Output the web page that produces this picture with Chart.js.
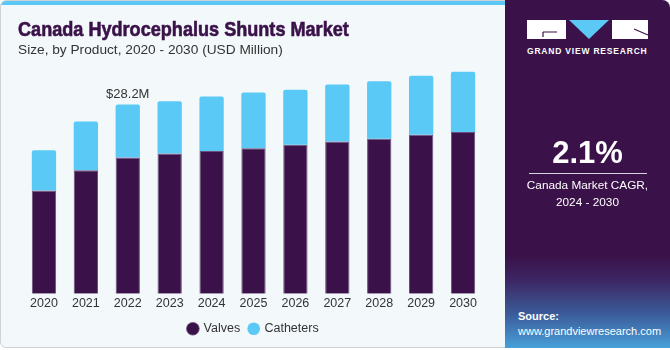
<!DOCTYPE html>
<html>
<head>
<meta charset="utf-8">
<script src="https://cdn.jsdelivr.net/npm/chart.js@4"></script>
<style>
  html, body { margin: 0; padding: 0; }
  body { width: 670px; height: 350px; position: relative; overflow: hidden; background: #fff; font-family: "Liberation Sans", Arial, sans-serif; }
  #frame { position: absolute; left: 0; top: 0; width: 668px; height: 346px; border: 1px solid #cfd3d6; border-radius: 6px; background: #f3f8fb; overflow: hidden; }
  #strip { position: absolute; left: 0; top: 0; width: 506px; height: 4px; background: #5bc8f5; }
  #title { position: absolute; left: 17px; top: 16px; font-size: 20.5px; font-weight: bold; color: #3a1148; white-space: nowrap; transform-origin: left; -webkit-text-stroke: 0.6px #3a1148; }
  #sub { position: absolute; left: 17px; top: 41px; font-size: 13.7px; color: #333; white-space: nowrap; }
  #chartbox { position: absolute; left: 0; top: 0; width: 505px; height: 346px; }
  #side { position: absolute; left: 505px; top: 0; width: 165px; height: 348px; border-top-right-radius: 8px; background: linear-gradient(to bottom, #3a1148 0%, #3a1148 73%, #3d2461 80%, #3b5a98 90%, #48a0da 100%); overflow: hidden; }
  #logo { position: absolute; left: 22px; top: 20px; }
  #gvr { position: absolute; left: 22px; top: 46px; color: #fff; font-size: 8.5px; font-weight: bold; letter-spacing: 0.8px; white-space: nowrap; transform-origin: left; }
  #cagr { position: absolute; left: 0; width: 165px; top: 135px; text-align: center; color: #fff; font-size: 31px; font-weight: bold; }
  #line { position: absolute; left: 24px; top: 173px; width: 118px; height: 1px; background: #d9d3e0; }
  #cagrtxt { position: absolute; left: 0; width: 165px; top: 177px; text-align: center; color: #fff; font-size: 11.8px; line-height: 16.5px; }
  #src { position: absolute; left: 13px; top: 309px; color: #fff; font-size: 11px; line-height: 15px; white-space: nowrap; }
</style>
</head>
<body>
<div id="frame">
  <div id="strip"></div>
  <div id="chartbox"><canvas id="chart"></canvas></div>
  <div id="title">Canada Hydrocephalus Shunts Market</div>
  <div id="sub">Size, by Product, 2020 - 2030 (USD Million)</div>
</div>
<div id="side">
  <svg id="logo" width="122" height="20" viewBox="0 0 122 20">
    <rect x="0" y="0" width="39" height="19" fill="#fff"/>
    <path d="M16 12 H30 M16 12 V17" stroke="#3a1148" stroke-width="1.2" fill="none"/>
    <polygon points="42,0 82,0 62,19" fill="#5bc8f5"/>
    <rect x="85" y="0" width="36" height="19" fill="#fff"/>
    <path d="M107 9 L121 15" stroke="#3a1148" stroke-width="1.2"/>
  </svg>
  <div id="gvr">GRAND VIEW RESEARCH</div>
  <div id="cagr">2.1%</div>
  <div id="line"></div>
  <div id="cagrtxt">Canada Market CAGR,<br>2024 - 2030</div>
  <div id="src"><b>Source:</b><br>www.grandviewresearch.com</div>
</div>
<script>
const years = ["2020", "2021", "2022", "2023", "2024", "2025", "2026", "2027", "2028", "2029", "2030"];
const valves = [15.4, 18.4, 20.3, 20.9, 21.3, 21.7, 22.2, 22.7, 23.1, 23.7, 24.1];
const catheters = [6.0, 7.3, 7.9, 7.8, 8.1, 8.3, 8.2, 8.5, 8.6, 8.8, 9.0];
const markIndex = 2;
const markLabel = "$28.2M";

// squeeze heading texts to the widths seen in the original
const fitWidth = (id, w) => {
    const el = document.getElementById(id);
    el.style.transform = `scaleX(${w / el.offsetWidth})`;
};
fitWidth("title", 331);
fitWidth("gvr", 121);

const valueLabel = {
    id: "valueLabel",
    afterDatasetsDraw(chart) {
        const bar = chart.getDatasetMeta(1).data[markIndex];
        const {ctx} = chart;
        ctx.save();
        ctx.font = "13px 'Liberation Sans', Arial, sans-serif";
        ctx.fillStyle = "#333";
        ctx.textAlign = "center";
        ctx.textBaseline = "alphabetic";
        ctx.fillText(markLabel, bar.x, bar.y - 7);
        ctx.restore();
    }
};

new Chart(document.getElementById("chart"), {
    type: "bar",
    data: {
        labels: years,
        datasets: [
            {
                label: "Valves",
                data: valves,
                backgroundColor: "#3a1148",
                borderColor: "#6b4f7c",
                borderWidth: {left: 1, right: 1, top: 1, bottom: 0},
                barPercentage: 0.58,
                categoryPercentage: 1
            },
            {
                label: "Catheters",
                data: catheters,
                backgroundColor: "#5bc9f5",
                borderRadius: {topLeft: 2, topRight: 2},
                borderSkipped: "bottom",
                barPercentage: 0.58,
                categoryPercentage: 1
            }
        ]
    },
    options: {
        responsive: true,
        maintainAspectRatio: false,
        animation: false,
        layout: {padding: {left: 22, right: 22, top: 58, bottom: 2}},
        plugins: {
            legend: {
                position: "bottom",
                labels: {
                    usePointStyle: true,
                    pointStyle: "circle",
                    boxWidth: 9,
                    boxHeight: 9,
                    padding: 9,
                    color: "#333",
                    font: {size: 12.5, family: "'Liberation Sans', Arial, sans-serif"}
                }
            },
            tooltip: {enabled: false}
        },
        scales: {
            x: {
                stacked: true,
                grid: {display: false, drawTicks: false},
                border: {display: false},
                ticks: {color: "#333", padding: 3, font: {size: 12.5, lineHeight: 1.1, family: "'Liberation Sans', Arial, sans-serif"}}
            },
            y: {
                stacked: true,
                display: false,
                min: 0,
                max: 35
            }
        }
    },
    plugins: [valueLabel]
});
</script>
</body>
</html>
